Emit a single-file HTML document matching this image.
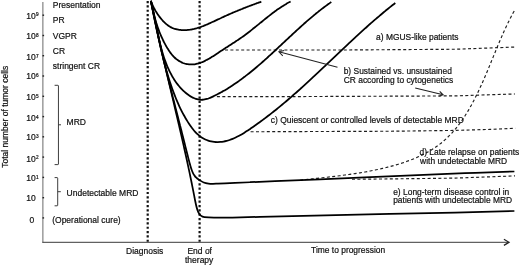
<!DOCTYPE html>
<html>
<head>
<meta charset="utf-8">
<title>Tumor cell kinetics</title>
<style>
html,body{margin:0;padding:0;background:#fff;}
body{width:520px;height:266px;overflow:hidden;}
svg{display:block;}
text{font-family:"Liberation Sans",Arial,sans-serif;font-size:8.5px;fill:#111;stroke:#111;stroke-width:0.2px;}
.ax{stroke:#444;stroke-width:1.2;fill:none;}
.dot{stroke:#111;stroke-width:2.2;stroke-dasharray:2.2 2.14;fill:none;}
.cv{stroke:#000;stroke-width:1.78;fill:none;stroke-linecap:butt;stroke-linejoin:round;}
.ds{stroke:#1e1e1e;stroke-width:1.15;stroke-dasharray:3 2.4;fill:none;}
.th{stroke:#222;stroke-width:1.05;fill:none;}
.br{stroke:#333;stroke-width:0.95;fill:none;}
.sup{font-size:4.7px;}
.an text{font-size:8.43px;}
</style>
</head>
<body>
<svg width="520" height="266" viewBox="0 0 520 266">
<rect width="520" height="266" fill="#fff"/>

<!-- axes -->
<path d="M42.85 2V242.6" stroke="#8c8c8c" stroke-width="1.3" fill="none"/>
<path d="M42.3 242.3H508" stroke="#3a3a3a" stroke-width="1" fill="none"/>
<path d="M503.9 239.3L509 242.3L503.9 245.4" stroke="#222" stroke-width="1.25" fill="none"/>

<!-- y ticks -->
<g fill="#222">
<rect x="42.5" y="14.5" width="1.6" height="1.4"/>
<rect x="42.5" y="34.8" width="1.6" height="1.4"/>
<rect x="42.5" y="55" width="1.6" height="1.4"/>
<rect x="42.5" y="75.3" width="1.6" height="1.4"/>
<rect x="42.5" y="95.6" width="1.6" height="1.4"/>
<rect x="42.5" y="115.9" width="1.6" height="1.4"/>
<rect x="42.5" y="136.1" width="1.6" height="1.4"/>
<rect x="42.5" y="156.4" width="1.6" height="1.4"/>
<rect x="42.5" y="176.7" width="1.6" height="1.4"/>
<rect x="42.5" y="197" width="1.6" height="1.4"/>
<rect x="42.5" y="217.2" width="1.6" height="1.4"/>
</g>

<!-- y tick labels -->
<g>
<text x="26.3" y="18.5">10<tspan class="sup" dx="0.2" dy="-2.3">9</tspan></text>
<text x="26.3" y="38.8">10<tspan class="sup" dx="0.2" dy="-2.3">8</tspan></text>
<text x="26.3" y="59.8">10<tspan class="sup" dx="0.2" dy="-2.3">7</tspan></text>
<text x="26.3" y="79.3">10<tspan class="sup" dx="0.2" dy="-2.3">6</tspan></text>
<text x="26.3" y="100.3">10<tspan class="sup" dx="0.2" dy="-2.3">5</tspan></text>
<text x="26.3" y="120.8">10<tspan class="sup" dx="0.2" dy="-2.3">4</tspan></text>
<text x="26.3" y="140.1">10<tspan class="sup" dx="0.2" dy="-2.3">3</tspan></text>
<text x="26.3" y="161.7">10<tspan class="sup" dx="0.2" dy="-2.3">2</tspan></text>
<text x="26.3" y="181.3">10<tspan class="sup" dx="0.2" dy="-2.3">1</tspan></text>
<text x="26.3" y="201">10</text>
<text x="29.5" y="222.5">0</text>
</g>

<!-- y axis title -->
<text transform="translate(7.8,167.8) rotate(-90)">Total number of tumor cells</text>

<!-- left categories -->
<text x="52.8" y="8.2">Presentation</text>
<text x="52.8" y="23.3">PR</text>
<text x="52.8" y="38.8">VGPR</text>
<text x="52.8" y="54.2">CR</text>
<text x="52.8" y="69">stringent CR</text>
<text x="66.6" y="125">MRD</text>
<text x="66.6" y="196.3">Undetectable MRD</text>
<text x="52.2" y="222.5">(Operational cure)</text>

<!-- brackets -->
<path class="br" d="M54.6 85.3H57.9Q58.45 85.3 58.45 85.9V164.0Q58.45 164.6 57.9 164.6H54.6M58.45 124.8H61"/>
<path class="br" d="M54.6 177.6H57.1Q57.7 177.6 57.7 178.2V205.2Q57.7 205.8 57.1 205.8H54.6M57.7 191.7H60.8"/>

<!-- vertical dotted lines -->
<path class="dot" d="M147.7 0.95V242"/>
<path class="dot" d="M199.6 0.95V242"/>

<!-- dashed plateau lines -->
<path class="ds" d="M225 50L341.9 50L455 49.25L515 47.05"/>
<path class="ds" d="M216.9 96.6L293 96.6L455 95.9L515 93.95"/>
<path class="ds" d="M250.6 131.75L390 131.25L455 130.4L490 129.4L515.3 128.25"/>
<path class="ds" d="M352 179.3L390 178.9L425 178.5L455 178.1L515 175.9"/>
<path class="ds" d="M300.00 180.21C300.41 180.16 301.62 180.02 302.43 179.93C303.24 179.84 304.05 179.75 304.86 179.66C305.67 179.57 306.49 179.48 307.30 179.39C308.12 179.30 308.94 179.21 309.76 179.12C310.58 179.03 311.40 178.94 312.22 178.85C313.04 178.76 313.87 178.67 314.69 178.58C315.52 178.49 316.35 178.40 317.17 178.31C318.00 178.22 318.83 178.13 319.66 178.04C320.49 177.95 321.32 177.86 322.16 177.77C322.99 177.67 323.82 177.58 324.66 177.49C325.49 177.39 326.33 177.30 327.16 177.21C328.00 177.11 328.84 177.02 329.67 176.92C330.51 176.82 331.35 176.73 332.19 176.63C333.03 176.53 333.87 176.43 334.71 176.33C335.55 176.23 336.40 176.12 337.24 176.02C338.08 175.92 338.92 175.81 339.77 175.71C340.61 175.60 341.45 175.49 342.30 175.38C343.14 175.27 343.98 175.16 344.83 175.05C345.67 174.94 346.52 174.82 347.36 174.71C348.21 174.59 349.05 174.47 349.90 174.35C350.74 174.23 351.59 174.11 352.43 173.99C353.28 173.86 354.12 173.74 354.97 173.61C355.81 173.48 356.66 173.35 357.50 173.21C358.35 173.08 359.19 172.95 360.04 172.81C360.88 172.67 361.72 172.53 362.57 172.38C363.41 172.24 364.25 172.10 365.10 171.95C365.94 171.80 366.78 171.65 367.62 171.49C368.46 171.34 369.31 171.18 370.15 171.02C370.99 170.86 371.83 170.70 372.66 170.53C373.50 170.36 374.34 170.19 375.18 170.02C376.02 169.85 376.85 169.67 377.69 169.49C378.52 169.31 379.36 169.13 380.19 168.94C381.02 168.75 381.86 168.56 382.69 168.37C383.52 168.17 384.35 167.98 385.18 167.77C386.01 167.57 386.83 167.37 387.66 167.16C388.49 166.95 389.31 166.74 390.14 166.52C390.96 166.30 391.78 166.08 392.60 165.85C393.42 165.63 394.24 165.40 395.06 165.16C395.88 164.93 396.69 164.69 397.51 164.45C398.32 164.20 399.14 163.96 399.95 163.70C400.76 163.45 401.57 163.19 402.37 162.93C403.18 162.67 403.98 162.40 404.79 162.13C405.59 161.86 406.39 161.58 407.18 161.30C407.98 161.02 408.77 160.73 409.56 160.43C410.35 160.14 411.14 159.84 411.93 159.53C412.71 159.22 413.49 158.91 414.27 158.59C415.04 158.27 415.82 157.95 416.59 157.62C417.36 157.29 418.12 156.95 418.88 156.60C419.64 156.26 420.40 155.90 421.15 155.54C421.90 155.18 422.65 154.82 423.39 154.44C424.13 154.07 424.87 153.69 425.60 153.30C426.33 152.91 427.06 152.51 427.78 152.10C428.50 151.70 429.22 151.28 429.93 150.86C430.64 150.44 431.34 150.01 432.04 149.57C432.74 149.13 433.43 148.69 434.11 148.23C434.80 147.77 435.48 147.31 436.15 146.84C436.82 146.37 437.49 145.89 438.15 145.40C438.81 144.91 439.47 144.41 440.11 143.91C440.76 143.40 441.40 142.89 442.04 142.36C442.67 141.84 443.30 141.31 443.92 140.78C444.54 140.24 445.16 139.69 445.76 139.14C446.37 138.58 446.97 138.02 447.56 137.45C448.16 136.88 448.74 136.30 449.32 135.71C449.90 135.13 450.47 134.53 451.04 133.93C451.61 133.33 452.17 132.72 452.72 132.10C453.27 131.49 453.82 130.86 454.36 130.23C454.90 129.60 455.43 128.96 455.96 128.32C456.48 127.68 457.00 127.03 457.52 126.37C458.03 125.71 458.54 125.05 459.04 124.38C459.55 123.71 460.04 123.04 460.54 122.36C461.03 121.68 461.51 121.00 461.99 120.31C462.47 119.61 462.95 118.92 463.42 118.22C463.89 117.52 464.35 116.81 464.81 116.10C465.27 115.39 465.72 114.68 466.17 113.96C466.62 113.24 467.06 112.52 467.50 111.79C467.94 111.07 468.37 110.34 468.80 109.60C469.23 108.87 469.66 108.13 470.08 107.39C470.50 106.65 470.91 105.91 471.33 105.16C471.74 104.41 472.15 103.66 472.55 102.91C472.95 102.16 473.35 101.41 473.75 100.65C474.14 99.89 474.53 99.13 474.92 98.37C475.31 97.61 475.69 96.85 476.07 96.09C476.46 95.32 476.83 94.56 477.21 93.79C477.58 93.02 477.95 92.26 478.32 91.49C478.68 90.72 479.05 89.95 479.41 89.17C479.77 88.40 480.13 87.63 480.48 86.86C480.84 86.08 481.19 85.31 481.54 84.53C481.89 83.75 482.24 82.98 482.59 82.20C482.93 81.42 483.27 80.64 483.62 79.86C483.96 79.09 484.30 78.31 484.63 77.52C484.97 76.74 485.31 75.96 485.64 75.18C485.97 74.40 486.30 73.62 486.64 72.83C486.97 72.05 487.29 71.27 487.62 70.49C487.95 69.70 488.28 68.92 488.60 68.13C488.93 67.35 489.25 66.57 489.58 65.78C489.90 65.00 490.22 64.21 490.55 63.43C490.87 62.64 491.19 61.86 491.51 61.08C491.83 60.29 492.15 59.51 492.47 58.72C492.79 57.94 493.12 57.16 493.44 56.37C493.76 55.59 494.08 54.81 494.40 54.02C494.72 53.24 495.04 52.46 495.36 51.68C495.68 50.90 496.01 50.12 496.33 49.33C496.65 48.55 496.97 47.77 497.30 47.00C497.62 46.22 497.95 45.44 498.27 44.66C498.60 43.88 498.93 43.11 499.26 42.33C499.58 41.56 499.91 40.78 500.25 40.01C500.58 39.23 500.91 38.46 501.24 37.69C501.58 36.92 501.92 36.15 502.25 35.38C502.59 34.61 502.93 33.84 503.27 33.08C503.62 32.31 503.96 31.54 504.31 30.78C504.66 30.02 505.00 29.26 505.36 28.49C505.71 27.73 506.06 26.98 506.42 26.22C506.78 25.46 507.14 24.71 507.50 23.95C507.86 23.20 508.23 22.45 508.60 21.70C508.97 20.95 509.34 20.20 509.71 19.45C510.09 18.71 510.47 17.96 510.85 17.22C511.23 16.48 511.62 15.74 512.01 15.00C512.40 14.26 512.80 13.53 513.19 12.79C513.59 12.06 514.20 10.97 514.40 10.60"/>

<!-- curves -->
<path class="cv" d="M150.90 0.90C150.96 1.07 151.13 1.57 151.25 1.90C151.38 2.23 151.50 2.56 151.63 2.89C151.76 3.22 151.90 3.55 152.03 3.88C152.17 4.21 152.31 4.54 152.46 4.86C152.60 5.19 152.75 5.52 152.90 5.84C153.06 6.17 153.21 6.50 153.37 6.82C153.53 7.15 153.69 7.47 153.86 7.79C154.02 8.11 154.19 8.44 154.37 8.76C154.54 9.08 154.71 9.40 154.89 9.72C155.07 10.04 155.26 10.35 155.44 10.67C155.63 10.99 155.82 11.30 156.01 11.62C156.20 11.93 156.40 12.24 156.59 12.55C156.79 12.87 156.99 13.18 157.20 13.49C157.40 13.79 157.61 14.10 157.82 14.41C158.03 14.71 158.24 15.02 158.46 15.32C158.67 15.62 158.89 15.92 159.11 16.22C159.33 16.52 159.56 16.82 159.79 17.12C160.01 17.41 160.24 17.71 160.47 18.00C160.71 18.29 160.94 18.58 161.18 18.87C161.42 19.16 161.66 19.44 161.90 19.73C162.14 20.01 162.39 20.29 162.64 20.57C162.88 20.84 163.14 21.11 163.39 21.38C163.65 21.65 163.90 21.92 164.17 22.18C164.43 22.44 164.69 22.70 164.96 22.95C165.23 23.20 165.50 23.45 165.77 23.69C166.05 23.93 166.33 24.17 166.61 24.40C166.89 24.63 167.17 24.85 167.46 25.07C167.75 25.29 168.05 25.50 168.34 25.70C168.64 25.91 168.94 26.11 169.24 26.30C169.55 26.49 169.86 26.67 170.17 26.85C170.48 27.02 170.80 27.19 171.12 27.35C171.44 27.51 171.76 27.66 172.09 27.81C172.42 27.95 172.75 28.09 173.08 28.22C173.42 28.35 173.75 28.47 174.09 28.59C174.43 28.70 174.77 28.81 175.12 28.91C175.46 29.01 175.81 29.11 176.15 29.20C176.50 29.29 176.85 29.37 177.20 29.44C177.55 29.52 177.90 29.59 178.26 29.65C178.61 29.71 178.96 29.77 179.32 29.82C179.67 29.87 180.03 29.91 180.39 29.95C180.74 29.99 181.10 30.02 181.45 30.05C181.81 30.07 182.16 30.09 182.52 30.11C182.87 30.12 183.23 30.13 183.58 30.14C183.94 30.14 184.29 30.14 184.65 30.14C185.00 30.13 185.36 30.12 185.71 30.10C186.07 30.09 186.42 30.07 186.78 30.04C187.13 30.02 187.49 29.99 187.84 29.95C188.19 29.92 188.55 29.88 188.90 29.83C189.25 29.79 189.61 29.74 189.96 29.69C190.31 29.63 190.67 29.58 191.02 29.51C191.37 29.45 191.72 29.39 192.08 29.32C192.43 29.25 192.78 29.18 193.13 29.10C193.49 29.02 193.84 28.94 194.19 28.86C194.54 28.77 194.89 28.68 195.24 28.59C195.59 28.50 195.95 28.41 196.30 28.31C196.65 28.21 197.00 28.11 197.35 28.00C197.70 27.90 198.05 27.79 198.40 27.68C198.75 27.57 199.10 27.46 199.44 27.34C199.79 27.22 200.14 27.11 200.49 26.98C200.84 26.86 201.19 26.74 201.54 26.61C201.88 26.49 202.23 26.36 202.58 26.23C202.93 26.09 203.27 25.96 203.62 25.83C203.97 25.69 204.31 25.55 204.66 25.41C205.01 25.28 205.35 25.13 205.70 24.99C206.04 24.85 206.39 24.70 206.73 24.56C207.08 24.41 207.42 24.26 207.77 24.12C208.11 23.97 208.46 23.82 208.80 23.66C209.14 23.51 209.49 23.36 209.83 23.21C210.17 23.05 210.51 22.90 210.86 22.74C211.20 22.59 211.54 22.43 211.88 22.27C212.22 22.12 212.56 21.96 212.90 21.80C213.24 21.64 213.58 21.48 213.92 21.33C214.26 21.17 214.60 21.01 214.94 20.85C215.28 20.69 215.62 20.53 215.96 20.37C216.30 20.21 216.63 20.05 216.97 19.89C217.31 19.73 217.65 19.57 217.98 19.41C218.32 19.25 218.66 19.10 218.99 18.94C219.33 18.78 219.66 18.62 220.00 18.47C220.33 18.31 220.67 18.15 221.00 18.00C221.33 17.84 221.67 17.69 222.00 17.53C222.33 17.38 222.67 17.23 223.00 17.07C223.33 16.92 223.66 16.77 224.00 16.62C224.33 16.47 224.66 16.32 224.99 16.17C225.32 16.02 225.65 15.87 225.98 15.72C226.31 15.57 226.64 15.42 226.97 15.27C227.30 15.13 227.63 14.98 227.96 14.83C228.29 14.69 228.62 14.54 228.95 14.40C229.28 14.25 229.61 14.11 229.94 13.96C230.27 13.82 230.60 13.68 230.93 13.53C231.26 13.39 231.59 13.25 231.92 13.11C232.24 12.96 232.57 12.82 232.90 12.68C233.23 12.54 233.56 12.40 233.89 12.26C234.22 12.12 234.55 11.98 234.88 11.84C235.21 11.71 235.53 11.57 235.86 11.43C236.19 11.29 236.52 11.15 236.85 11.02C237.18 10.88 237.51 10.74 237.84 10.61C238.17 10.47 238.50 10.34 238.83 10.20C239.16 10.07 239.49 9.93 239.82 9.80C240.15 9.66 240.48 9.53 240.82 9.40C241.15 9.26 241.48 9.13 241.81 9.00C242.14 8.86 242.47 8.73 242.81 8.60C243.14 8.47 243.47 8.33 243.80 8.20C244.14 8.07 244.47 7.94 244.81 7.81C245.14 7.68 245.47 7.55 245.81 7.42C246.14 7.29 246.48 7.16 246.81 7.03C247.15 6.90 247.49 6.77 247.82 6.64C248.16 6.51 248.50 6.38 248.84 6.25C249.17 6.12 249.51 6.00 249.85 5.87C250.19 5.74 250.53 5.61 250.87 5.48C251.21 5.36 251.55 5.23 251.89 5.10C252.23 4.97 252.58 4.85 252.92 4.72C253.26 4.59 253.61 4.47 253.95 4.34C254.29 4.21 254.64 4.09 254.99 3.96C255.33 3.83 255.68 3.71 256.02 3.58C256.37 3.46 256.72 3.33 257.07 3.20C257.42 3.08 257.77 2.95 258.12 2.83C258.47 2.70 258.82 2.58 259.17 2.45C259.53 2.32 259.88 2.20 260.23 2.07C260.59 1.95 261.12 1.76 261.30 1.70"/>
<path class="cv" d="M150.90 0.90C150.95 1.17 151.12 1.99 151.23 2.53C151.34 3.08 151.45 3.62 151.56 4.16C151.67 4.70 151.79 5.25 151.91 5.79C152.02 6.33 152.14 6.87 152.26 7.42C152.38 7.96 152.50 8.50 152.62 9.04C152.75 9.58 152.87 10.12 153.00 10.66C153.13 11.20 153.26 11.74 153.39 12.28C153.52 12.82 153.65 13.36 153.79 13.90C153.92 14.44 154.06 14.98 154.20 15.51C154.34 16.05 154.48 16.59 154.63 17.12C154.78 17.66 154.92 18.20 155.07 18.73C155.22 19.27 155.38 19.80 155.53 20.34C155.69 20.87 155.85 21.40 156.01 21.94C156.17 22.47 156.34 23.00 156.51 23.53C156.67 24.06 156.84 24.60 157.02 25.12C157.19 25.65 157.37 26.18 157.55 26.71C157.73 27.24 157.92 27.77 158.10 28.30C158.29 28.82 158.48 29.35 158.68 29.87C158.87 30.40 159.07 30.92 159.27 31.45C159.47 31.97 159.68 32.49 159.89 33.01C160.10 33.53 160.31 34.05 160.53 34.57C160.75 35.09 160.97 35.61 161.19 36.13C161.42 36.65 161.65 37.16 161.88 37.68C162.12 38.19 162.36 38.71 162.60 39.22C162.84 39.74 163.09 40.25 163.34 40.76C163.59 41.27 163.85 41.78 164.11 42.29C164.37 42.80 164.64 43.30 164.91 43.81C165.18 44.32 165.45 44.82 165.73 45.33C166.01 45.83 166.30 46.33 166.59 46.83C166.88 47.33 167.17 47.83 167.47 48.33C167.78 48.82 168.08 49.31 168.40 49.80C168.71 50.29 169.03 50.77 169.35 51.24C169.68 51.72 170.01 52.19 170.35 52.65C170.69 53.11 171.04 53.56 171.40 54.01C171.75 54.45 172.11 54.89 172.48 55.31C172.85 55.74 173.23 56.15 173.62 56.56C174.00 56.96 174.40 57.35 174.80 57.73C175.21 58.11 175.62 58.48 176.04 58.83C176.47 59.18 176.90 59.52 177.34 59.84C177.77 60.16 178.22 60.47 178.68 60.76C179.13 61.06 179.59 61.33 180.06 61.60C180.53 61.86 181.01 62.10 181.49 62.33C181.97 62.56 182.46 62.77 182.95 62.97C183.45 63.16 183.95 63.34 184.45 63.49C184.95 63.65 185.46 63.79 185.98 63.91C186.49 64.03 187.01 64.14 187.53 64.22C188.05 64.30 188.58 64.36 189.11 64.41C189.63 64.45 190.17 64.47 190.70 64.48C191.23 64.48 191.77 64.47 192.30 64.44C192.84 64.41 193.38 64.36 193.92 64.29C194.45 64.23 194.99 64.15 195.53 64.05C196.07 63.95 196.60 63.84 197.14 63.71C197.67 63.59 198.21 63.44 198.74 63.29C199.27 63.14 199.80 62.97 200.32 62.79C200.85 62.60 201.37 62.41 201.89 62.21C202.41 62.00 202.93 61.78 203.45 61.56C203.96 61.33 204.47 61.09 204.98 60.85C205.49 60.60 206.00 60.35 206.51 60.08C207.01 59.82 207.52 59.55 208.02 59.27C208.52 58.99 209.02 58.71 209.52 58.42C210.02 58.13 210.51 57.83 211.01 57.53C211.50 57.23 211.99 56.92 212.48 56.61C212.97 56.30 213.46 55.98 213.95 55.67C214.44 55.35 214.93 55.03 215.41 54.71C215.90 54.39 216.38 54.07 216.86 53.75C217.35 53.43 217.83 53.10 218.31 52.78C218.79 52.46 219.27 52.14 219.75 51.82C220.22 51.50 220.70 51.18 221.18 50.87C221.65 50.55 222.13 50.24 222.61 49.93C223.08 49.62 223.55 49.31 224.03 49.00C224.50 48.69 224.97 48.38 225.45 48.08C225.92 47.77 226.39 47.47 226.86 47.16C227.33 46.86 227.80 46.56 228.26 46.25C228.73 45.95 229.20 45.65 229.67 45.35C230.13 45.05 230.60 44.75 231.06 44.45C231.53 44.14 231.99 43.84 232.45 43.54C232.91 43.24 233.38 42.94 233.84 42.64C234.30 42.34 234.76 42.04 235.22 41.73C235.68 41.43 236.13 41.13 236.59 40.82C237.05 40.52 237.50 40.21 237.96 39.91C238.41 39.60 238.87 39.29 239.32 38.98C239.77 38.68 240.23 38.37 240.68 38.05C241.13 37.74 241.58 37.43 242.03 37.11C242.48 36.80 242.93 36.48 243.37 36.16C243.82 35.84 244.27 35.52 244.71 35.19C245.16 34.87 245.60 34.54 246.05 34.21C246.49 33.88 246.93 33.55 247.38 33.22C247.82 32.88 248.26 32.55 248.70 32.21C249.14 31.87 249.58 31.53 250.02 31.19C250.46 30.85 250.90 30.50 251.33 30.16C251.77 29.81 252.21 29.47 252.65 29.12C253.08 28.77 253.52 28.42 253.96 28.07C254.39 27.72 254.83 27.37 255.26 27.02C255.70 26.67 256.14 26.31 256.57 25.96C257.01 25.61 257.44 25.25 257.88 24.90C258.31 24.54 258.75 24.19 259.18 23.83C259.62 23.48 260.06 23.12 260.49 22.77C260.93 22.41 261.36 22.06 261.80 21.70C262.24 21.35 262.67 20.99 263.11 20.63C263.55 20.28 263.98 19.93 264.42 19.57C264.86 19.22 265.30 18.86 265.74 18.51C266.18 18.16 266.62 17.81 267.06 17.46C267.50 17.11 267.94 16.76 268.38 16.41C268.82 16.06 269.26 15.71 269.71 15.37C270.15 15.02 270.59 14.68 271.04 14.33C271.48 13.99 271.93 13.65 272.38 13.31C272.83 12.97 273.27 12.64 273.72 12.30C274.17 11.97 274.62 11.63 275.08 11.30C275.53 10.97 275.98 10.64 276.44 10.32C276.89 9.99 277.35 9.67 277.81 9.35C278.26 9.03 278.72 8.71 279.18 8.39C279.64 8.08 280.11 7.77 280.57 7.46C281.03 7.15 281.50 6.84 281.97 6.54C282.44 6.24 282.90 5.94 283.38 5.64C283.85 5.35 284.32 5.05 284.80 4.77C285.27 4.48 285.75 4.19 286.23 3.91C286.71 3.63 287.19 3.35 287.67 3.08C288.15 2.81 288.64 2.54 289.13 2.28C289.62 2.01 290.35 1.63 290.60 1.50"/>
<path class="cv" d="M150.90 0.90C151.00 1.29 151.29 2.44 151.48 3.21C151.68 3.98 151.86 4.75 152.04 5.53C152.23 6.30 152.41 7.07 152.58 7.84C152.76 8.62 152.93 9.39 153.10 10.17C153.27 10.94 153.44 11.71 153.60 12.49C153.77 13.26 153.93 14.04 154.09 14.82C154.25 15.59 154.41 16.37 154.56 17.14C154.72 17.92 154.88 18.69 155.03 19.47C155.19 20.24 155.34 21.02 155.49 21.79C155.65 22.57 155.80 23.34 155.95 24.12C156.10 24.89 156.26 25.67 156.41 26.44C156.56 27.22 156.71 27.99 156.87 28.76C157.02 29.54 157.18 30.31 157.33 31.08C157.49 31.85 157.65 32.63 157.81 33.40C157.97 34.17 158.13 34.94 158.29 35.71C158.45 36.48 158.62 37.24 158.79 38.01C158.96 38.78 159.13 39.55 159.30 40.31C159.47 41.08 159.65 41.84 159.83 42.61C160.01 43.37 160.20 44.13 160.39 44.89C160.57 45.65 160.77 46.41 160.96 47.17C161.16 47.93 161.36 48.69 161.57 49.44C161.78 50.20 161.99 50.95 162.21 51.71C162.42 52.46 162.64 53.21 162.87 53.96C163.10 54.71 163.34 55.45 163.58 56.20C163.82 56.95 164.06 57.69 164.32 58.43C164.57 59.17 164.83 59.91 165.10 60.65C165.37 61.39 165.64 62.13 165.93 62.86C166.21 63.60 166.50 64.33 166.80 65.06C167.10 65.79 167.41 66.51 167.72 67.24C168.04 67.96 168.36 68.69 168.70 69.41C169.03 70.13 169.37 70.85 169.73 71.56C170.08 72.28 170.44 72.99 170.81 73.70C171.18 74.41 171.57 75.11 171.96 75.81C172.35 76.51 172.76 77.20 173.17 77.89C173.59 78.58 174.01 79.26 174.45 79.94C174.89 80.61 175.34 81.28 175.80 81.94C176.26 82.60 176.74 83.26 177.23 83.90C177.71 84.54 178.21 85.18 178.73 85.80C179.24 86.42 179.77 87.04 180.31 87.64C180.85 88.24 181.41 88.84 181.98 89.41C182.55 89.99 183.13 90.56 183.73 91.11C184.33 91.67 184.95 92.21 185.58 92.73C186.21 93.26 186.85 93.77 187.51 94.26C188.17 94.75 188.84 95.23 189.53 95.67C190.21 96.12 190.91 96.54 191.61 96.93C192.31 97.31 193.02 97.68 193.74 98.00C194.46 98.32 195.18 98.61 195.91 98.85C196.64 99.09 197.37 99.29 198.10 99.45C198.84 99.60 199.57 99.71 200.31 99.76C201.04 99.81 201.78 99.81 202.51 99.76C203.24 99.72 203.97 99.61 204.70 99.47C205.43 99.34 206.16 99.15 206.88 98.94C207.61 98.73 208.33 98.48 209.05 98.21C209.77 97.95 210.49 97.65 211.20 97.34C211.92 97.02 212.63 96.69 213.34 96.35C214.05 96.01 214.76 95.66 215.46 95.31C216.16 94.96 216.86 94.60 217.56 94.24C218.25 93.87 218.95 93.51 219.64 93.13C220.33 92.76 221.01 92.38 221.70 92.00C222.38 91.61 223.06 91.23 223.74 90.83C224.42 90.44 225.09 90.04 225.76 89.64C226.44 89.24 227.11 88.83 227.77 88.42C228.44 88.01 229.10 87.60 229.76 87.18C230.42 86.76 231.08 86.33 231.74 85.91C232.39 85.48 233.05 85.05 233.70 84.61C234.35 84.17 235.00 83.73 235.64 83.29C236.29 82.85 236.93 82.40 237.57 81.95C238.21 81.50 238.85 81.04 239.49 80.58C240.12 80.12 240.76 79.66 241.39 79.20C242.02 78.73 242.65 78.26 243.28 77.79C243.91 77.32 244.53 76.84 245.16 76.36C245.78 75.89 246.40 75.40 247.02 74.92C247.64 74.44 248.26 73.95 248.88 73.46C249.49 72.97 250.11 72.47 250.72 71.98C251.33 71.48 251.94 70.98 252.55 70.48C253.16 69.98 253.77 69.48 254.38 68.97C254.98 68.47 255.59 67.96 256.19 67.45C256.80 66.94 257.40 66.42 258.00 65.91C258.60 65.40 259.20 64.88 259.80 64.36C260.40 63.84 260.99 63.32 261.59 62.80C262.18 62.27 262.78 61.75 263.37 61.22C263.97 60.70 264.56 60.17 265.15 59.64C265.74 59.11 266.33 58.58 266.92 58.05C267.51 57.52 268.10 56.98 268.69 56.45C269.27 55.91 269.86 55.38 270.45 54.84C271.03 54.30 271.62 53.77 272.21 53.23C272.79 52.69 273.38 52.15 273.96 51.61C274.54 51.07 275.13 50.52 275.71 49.98C276.29 49.44 276.87 48.90 277.46 48.35C278.04 47.81 278.62 47.27 279.20 46.72C279.78 46.18 280.36 45.63 280.95 45.09C281.53 44.54 282.11 44.00 282.69 43.45C283.27 42.91 283.85 42.36 284.43 41.82C285.01 41.27 285.59 40.73 286.17 40.18C286.75 39.64 287.33 39.10 287.92 38.55C288.50 38.01 289.08 37.46 289.66 36.92C290.24 36.38 290.82 35.83 291.41 35.29C291.99 34.75 292.57 34.21 293.15 33.67C293.74 33.13 294.32 32.59 294.90 32.05C295.49 31.51 296.07 30.97 296.66 30.43C297.24 29.90 297.83 29.36 298.41 28.83C299.00 28.29 299.59 27.76 300.18 27.23C300.76 26.70 301.35 26.17 301.94 25.64C302.53 25.11 303.12 24.58 303.71 24.05C304.31 23.53 304.90 23.00 305.49 22.48C306.09 21.96 306.68 21.44 307.28 20.92C307.87 20.40 308.47 19.88 309.07 19.37C309.67 18.86 310.27 18.34 310.87 17.83C311.47 17.32 312.07 16.81 312.67 16.31C313.28 15.80 313.88 15.30 314.49 14.80C315.10 14.30 315.70 13.80 316.31 13.31C316.92 12.81 317.53 12.32 318.15 11.83C318.76 11.34 319.38 10.85 319.99 10.37C320.61 9.88 321.23 9.40 321.85 8.92C322.47 8.45 323.09 7.97 323.71 7.50C324.34 7.03 324.96 6.56 325.59 6.09C326.22 5.63 326.85 5.17 327.48 4.71C328.11 4.25 328.75 3.80 329.38 3.35C330.02 2.90 330.98 2.23 331.30 2.01"/>
<path class="cv" d="M150.90 0.90C151.02 1.44 151.38 3.08 151.61 4.17C151.85 5.26 152.08 6.35 152.31 7.44C152.54 8.53 152.77 9.62 153.00 10.70C153.23 11.79 153.45 12.88 153.68 13.96C153.90 15.05 154.13 16.13 154.35 17.22C154.57 18.30 154.79 19.39 155.02 20.47C155.24 21.55 155.46 22.63 155.68 23.72C155.90 24.80 156.12 25.88 156.34 26.96C156.56 28.04 156.79 29.12 157.01 30.19C157.23 31.27 157.45 32.35 157.68 33.43C157.90 34.50 158.13 35.58 158.35 36.65C158.58 37.73 158.81 38.80 159.04 39.87C159.26 40.95 159.50 42.02 159.73 43.09C159.96 44.16 160.20 45.23 160.44 46.30C160.67 47.37 160.91 48.44 161.16 49.50C161.40 50.57 161.65 51.64 161.90 52.70C162.15 53.77 162.40 54.83 162.65 55.89C162.91 56.96 163.17 58.02 163.43 59.08C163.70 60.14 163.96 61.20 164.24 62.26C164.51 63.32 164.78 64.38 165.07 65.43C165.35 66.49 165.63 67.54 165.92 68.60C166.21 69.65 166.51 70.71 166.81 71.76C167.11 72.81 167.42 73.86 167.73 74.91C168.04 75.96 168.36 77.01 168.69 78.06C169.01 79.10 169.34 80.15 169.68 81.20C170.02 82.24 170.36 83.28 170.71 84.33C171.06 85.37 171.42 86.41 171.78 87.45C172.15 88.49 172.52 89.53 172.90 90.57C173.28 91.60 173.67 92.64 174.06 93.67C174.46 94.71 174.86 95.74 175.27 96.77C175.69 97.81 176.11 98.84 176.54 99.87C176.97 100.89 177.40 101.92 177.85 102.95C178.30 103.97 178.76 104.99 179.23 106.01C179.69 107.03 180.17 108.05 180.66 109.06C181.16 110.07 181.66 111.07 182.17 112.07C182.69 113.07 183.22 114.07 183.76 115.05C184.30 116.04 184.85 117.03 185.42 118.00C185.99 118.97 186.57 119.94 187.17 120.90C187.77 121.86 188.38 122.81 189.01 123.76C189.64 124.70 190.28 125.63 190.95 126.55C191.61 127.47 192.29 128.38 192.99 129.26C193.69 130.14 194.41 131.01 195.16 131.83C195.90 132.65 196.66 133.44 197.46 134.18C198.25 134.92 199.07 135.62 199.91 136.27C200.76 136.91 201.63 137.50 202.53 138.03C203.43 138.56 204.36 139.04 205.30 139.46C206.24 139.89 207.21 140.26 208.18 140.58C209.16 140.90 210.16 141.16 211.16 141.38C212.17 141.59 213.19 141.75 214.21 141.87C215.24 141.98 216.27 142.04 217.31 142.06C218.34 142.07 219.38 142.04 220.42 141.96C221.46 141.88 222.49 141.75 223.52 141.57C224.55 141.40 225.58 141.17 226.60 140.91C227.62 140.65 228.64 140.34 229.65 140.00C230.66 139.66 231.66 139.28 232.66 138.87C233.66 138.46 234.66 138.01 235.65 137.54C236.64 137.07 237.62 136.56 238.60 136.04C239.58 135.52 240.56 134.97 241.53 134.40C242.50 133.84 243.46 133.25 244.42 132.65C245.39 132.05 246.34 131.43 247.29 130.81C248.25 130.19 249.19 129.55 250.14 128.91C251.08 128.27 252.02 127.62 252.95 126.98C253.88 126.33 254.81 125.68 255.74 125.02C256.66 124.37 257.58 123.71 258.50 123.05C259.42 122.39 260.33 121.72 261.24 121.05C262.14 120.39 263.05 119.71 263.95 119.04C264.85 118.37 265.74 117.69 266.64 117.01C267.53 116.33 268.42 115.65 269.30 114.96C270.19 114.28 271.07 113.59 271.95 112.90C272.83 112.21 273.70 111.52 274.57 110.82C275.45 110.13 276.31 109.43 277.18 108.73C278.04 108.03 278.91 107.32 279.76 106.62C280.62 105.91 281.48 105.21 282.33 104.50C283.18 103.79 284.03 103.07 284.88 102.36C285.73 101.65 286.57 100.93 287.41 100.21C288.26 99.49 289.09 98.77 289.93 98.05C290.77 97.33 291.60 96.60 292.43 95.88C293.27 95.15 294.10 94.43 294.92 93.70C295.75 92.97 296.58 92.24 297.40 91.50C298.22 90.77 299.04 90.04 299.86 89.30C300.68 88.57 301.50 87.83 302.31 87.09C303.13 86.35 303.94 85.61 304.75 84.87C305.57 84.13 306.38 83.39 307.19 82.65C307.99 81.90 308.80 81.16 309.61 80.41C310.41 79.67 311.22 78.92 312.02 78.17C312.83 77.43 313.63 76.68 314.43 75.93C315.23 75.18 316.03 74.43 316.83 73.68C317.63 72.93 318.43 72.18 319.22 71.42C320.02 70.67 320.82 69.92 321.61 69.17C322.41 68.41 323.20 67.66 324.00 66.91C324.79 66.15 325.59 65.40 326.38 64.64C327.18 63.89 327.97 63.13 328.76 62.38C329.56 61.62 330.35 60.87 331.14 60.11C331.94 59.36 332.73 58.60 333.52 57.85C334.32 57.09 335.11 56.34 335.90 55.58C336.70 54.83 337.49 54.07 338.28 53.32C339.08 52.56 339.87 51.81 340.66 51.06C341.46 50.30 342.25 49.55 343.05 48.80C343.85 48.04 344.64 47.29 345.44 46.54C346.24 45.79 347.03 45.04 347.83 44.28C348.63 43.53 349.43 42.78 350.23 42.03C351.03 41.29 351.83 40.54 352.64 39.79C353.44 39.04 354.24 38.30 355.05 37.55C355.85 36.80 356.66 36.06 357.47 35.32C358.28 34.57 359.09 33.83 359.90 33.09C360.71 32.35 361.52 31.61 362.34 30.87C363.15 30.13 363.97 29.40 364.79 28.66C365.60 27.92 366.42 27.19 367.25 26.46C368.07 25.72 368.89 24.99 369.72 24.26C370.55 23.53 371.37 22.81 372.20 22.08C373.04 21.35 373.87 20.63 374.70 19.91C375.54 19.19 376.38 18.47 377.22 17.75C378.06 17.03 378.90 16.31 379.75 15.60C380.59 14.88 381.44 14.17 382.29 13.46C383.14 12.75 384.00 12.04 384.86 11.34C385.71 10.63 386.57 9.93 387.44 9.23C388.30 8.53 389.17 7.83 390.04 7.13C390.91 6.44 391.78 5.74 392.66 5.05C393.53 4.36 394.86 3.33 395.30 2.99"/>
<path class="cv" style="stroke-width:1.75" d="M150.90 0.90C150.95 1.16 151.09 1.93 151.19 2.45C151.29 2.97 151.38 3.49 151.48 4.00C151.58 4.52 151.68 5.04 151.78 5.55C151.87 6.07 151.97 6.59 152.07 7.10C152.17 7.62 152.27 8.14 152.37 8.65C152.47 9.17 152.57 9.69 152.67 10.20C152.78 10.72 152.88 11.23 152.98 11.75C153.08 12.27 153.18 12.78 153.29 13.30C153.39 13.81 153.49 14.33 153.60 14.84C153.70 15.36 153.81 15.87 153.91 16.39C154.01 16.91 154.12 17.42 154.22 17.94C154.33 18.45 154.44 18.97 154.54 19.48C154.65 19.99 154.75 20.51 154.86 21.02C154.97 21.54 155.08 22.05 155.18 22.57C155.29 23.08 155.40 23.60 155.51 24.11C155.62 24.63 155.72 25.14 155.83 25.65C155.94 26.17 156.05 26.68 156.16 27.20C156.27 27.71 156.38 28.22 156.49 28.74C156.60 29.25 156.71 29.76 156.83 30.28C156.94 30.79 157.05 31.31 157.16 31.82C157.27 32.33 157.38 32.85 157.50 33.36C157.61 33.87 157.72 34.39 157.84 34.90C157.95 35.41 158.06 35.92 158.18 36.44C158.29 36.95 158.40 37.46 158.52 37.98C158.63 38.49 158.75 39.00 158.86 39.51C158.98 40.03 159.09 40.54 159.21 41.05C159.33 41.56 159.44 42.08 159.56 42.59C159.67 43.10 159.79 43.61 159.91 44.12C160.03 44.64 160.14 45.15 160.26 45.66C160.38 46.17 160.50 46.69 160.61 47.20C160.73 47.71 160.85 48.22 160.97 48.73C161.09 49.24 161.21 49.76 161.33 50.27C161.44 50.78 161.56 51.29 161.68 51.80C161.80 52.31 161.92 52.83 162.04 53.34C162.16 53.85 162.28 54.36 162.41 54.87C162.53 55.38 162.65 55.89 162.77 56.40C162.89 56.92 163.01 57.43 163.13 57.94C163.25 58.45 163.38 58.96 163.50 59.47C163.62 59.98 163.74 60.49 163.87 61.00C163.99 61.51 164.11 62.02 164.23 62.54C164.36 63.05 164.48 63.56 164.60 64.07C164.73 64.58 164.85 65.09 164.97 65.60C165.10 66.11 165.22 66.62 165.35 67.13C165.47 67.64 165.60 68.15 165.72 68.66C165.84 69.17 165.97 69.68 166.09 70.19C166.22 70.70 166.34 71.21 166.47 71.72C166.60 72.23 166.72 72.74 166.85 73.25C166.97 73.76 167.10 74.27 167.22 74.78C167.35 75.29 167.48 75.80 167.60 76.31C167.73 76.82 167.86 77.33 167.98 77.84C168.11 78.35 168.24 78.86 168.36 79.37C168.49 79.88 168.62 80.39 168.74 80.90C168.87 81.41 169.00 81.92 169.13 82.43C169.25 82.94 169.38 83.45 169.51 83.96C169.64 84.47 169.77 84.98 169.89 85.49C170.02 86.00 170.15 86.51 170.28 87.02C170.41 87.53 170.53 88.04 170.66 88.55C170.79 89.06 170.92 89.57 171.05 90.08C171.18 90.59 171.31 91.09 171.44 91.60C171.56 92.11 171.69 92.62 171.82 93.13C171.95 93.64 172.08 94.15 172.21 94.66C172.34 95.17 172.47 95.68 172.60 96.19C172.73 96.70 172.86 97.21 172.99 97.72C173.12 98.23 173.25 98.74 173.38 99.25C173.51 99.75 173.64 100.26 173.77 100.77C173.90 101.28 174.03 101.79 174.16 102.30C174.29 102.81 174.42 103.32 174.55 103.83C174.68 104.34 174.81 104.85 174.94 105.36C175.07 105.87 175.20 106.38 175.33 106.88C175.46 107.39 175.59 107.90 175.72 108.41C175.85 108.92 175.98 109.43 176.11 109.94C176.24 110.45 176.37 110.96 176.50 111.47C176.63 111.98 176.76 112.49 176.89 113.00C177.02 113.51 177.15 114.02 177.28 114.52C177.41 115.03 177.54 115.54 177.67 116.05C177.80 116.56 177.93 117.07 178.06 117.58C178.19 118.09 178.32 118.60 178.46 119.11C178.59 119.62 178.72 120.13 178.85 120.64C178.98 121.15 179.11 121.66 179.24 122.17C179.37 122.68 179.50 123.18 179.63 123.69C179.76 124.20 179.89 124.71 180.02 125.22C180.15 125.73 180.28 126.24 180.41 126.75C180.54 127.26 180.67 127.77 180.80 128.28C180.93 128.79 181.06 129.30 181.19 129.81C181.32 130.32 181.45 130.83 181.58 131.34C181.71 131.85 181.84 132.36 181.97 132.87C182.10 133.38 182.23 133.89 182.36 134.40C182.49 134.91 182.61 135.42 182.74 135.93C182.87 136.44 183.00 136.95 183.13 137.46C183.26 137.97 183.39 138.48 183.52 138.99C183.65 139.50 183.78 140.01 183.91 140.52C184.03 141.03 184.16 141.54 184.29 142.05C184.42 142.56 184.55 143.07 184.68 143.58C184.80 144.09 184.93 144.60 185.06 145.11C185.19 145.62 185.32 146.13 185.44 146.64C185.57 147.15 185.70 147.66 185.83 148.17C185.96 148.68 186.08 149.20 186.21 149.71C186.34 150.22 186.47 150.73 186.59 151.24C186.72 151.75 186.85 152.26 186.98 152.77C187.10 153.28 187.23 153.79 187.36 154.30C187.49 154.81 187.62 155.32 187.75 155.83C187.88 156.34 188.01 156.85 188.14 157.36C188.27 157.87 188.40 158.38 188.54 158.89C188.67 159.40 188.80 159.91 188.94 160.42C189.07 160.93 189.21 161.44 189.34 161.95C189.48 162.46 189.62 162.97 189.75 163.48C189.89 163.99 190.03 164.50 190.18 165.00C190.32 165.51 190.46 166.02 190.61 166.53C190.75 167.03 190.90 167.54 191.06 168.04C191.22 168.54 191.38 169.04 191.55 169.53C191.72 170.02 191.90 170.51 192.09 170.99C192.28 171.48 192.47 171.95 192.69 172.42C192.90 172.88 193.13 173.34 193.37 173.79C193.62 174.24 193.87 174.68 194.15 175.10C194.43 175.53 194.72 175.94 195.04 176.34C195.35 176.74 195.64 177.10 196.05 177.49C196.46 177.88 196.84 178.22 197.50 178.70C198.16 179.18 198.96 179.77 200.00 180.40C201.04 181.03 202.33 181.97 203.75 182.50C205.17 183.03 206.96 183.38 208.50 183.60C210.04 183.82 211.42 183.80 213.00 183.80C214.58 183.80 216.00 183.68 218.00 183.60C220.00 183.52 222.17 183.42 225.00 183.30C227.83 183.18 230.83 183.08 235.00 182.90C239.17 182.72 243.33 182.53 250.00 182.25C256.67 181.97 263.33 181.69 275.00 181.20C286.67 180.71 299.17 180.18 320.00 179.30C340.83 178.42 375.83 176.92 400.00 175.90C424.17 174.88 445.93 173.93 465.00 173.20C484.07 172.47 506.17 171.78 514.40 171.50"/>
<path class="cv" style="stroke-width:1.75" d="M150.90 0.90C150.98 1.32 151.23 2.59 151.40 3.43C151.57 4.28 151.74 5.12 151.91 5.96C152.08 6.81 152.25 7.65 152.42 8.49C152.59 9.34 152.76 10.18 152.94 11.02C153.11 11.87 153.28 12.71 153.46 13.55C153.63 14.39 153.81 15.24 153.98 16.08C154.16 16.92 154.34 17.76 154.51 18.60C154.69 19.45 154.87 20.29 155.05 21.13C155.22 21.97 155.40 22.81 155.58 23.65C155.76 24.50 155.94 25.34 156.12 26.18C156.31 27.02 156.49 27.86 156.67 28.70C156.85 29.54 157.03 30.38 157.22 31.22C157.40 32.06 157.58 32.90 157.77 33.74C157.95 34.59 158.14 35.43 158.32 36.27C158.51 37.11 158.70 37.95 158.88 38.79C159.07 39.63 159.26 40.47 159.44 41.31C159.63 42.15 159.82 42.98 160.01 43.82C160.20 44.66 160.38 45.50 160.57 46.34C160.76 47.18 160.95 48.02 161.14 48.86C161.33 49.70 161.52 50.54 161.71 51.38C161.90 52.22 162.10 53.06 162.29 53.89C162.48 54.73 162.67 55.57 162.86 56.41C163.06 57.25 163.25 58.09 163.44 58.93C163.64 59.77 163.83 60.60 164.02 61.44C164.22 62.28 164.41 63.12 164.60 63.96C164.80 64.80 164.99 65.63 165.19 66.47C165.38 67.31 165.58 68.15 165.77 68.99C165.97 69.82 166.16 70.66 166.36 71.50C166.55 72.34 166.75 73.18 166.95 74.01C167.14 74.85 167.34 75.69 167.54 76.53C167.73 77.37 167.93 78.20 168.13 79.04C168.32 79.88 168.52 80.72 168.72 81.55C168.91 82.39 169.11 83.23 169.31 84.07C169.50 84.91 169.70 85.74 169.90 86.58C170.10 87.42 170.29 88.26 170.49 89.09C170.69 89.93 170.89 90.77 171.08 91.61C171.28 92.44 171.48 93.28 171.68 94.12C171.87 94.96 172.07 95.79 172.27 96.63C172.47 97.47 172.67 98.31 172.86 99.14C173.06 99.98 173.26 100.82 173.46 101.66C173.65 102.50 173.85 103.33 174.05 104.17C174.25 105.01 174.44 105.85 174.64 106.68C174.84 107.52 175.03 108.36 175.23 109.20C175.43 110.03 175.63 110.87 175.82 111.71C176.02 112.55 176.22 113.39 176.41 114.22C176.61 115.06 176.80 115.90 177.00 116.74C177.20 117.58 177.39 118.41 177.59 119.25C177.78 120.09 177.98 120.93 178.17 121.77C178.37 122.60 178.56 123.44 178.76 124.28C178.95 125.12 179.15 125.96 179.34 126.79C179.54 127.63 179.73 128.47 179.92 129.31C180.12 130.15 180.31 130.99 180.50 131.83C180.70 132.66 180.89 133.50 181.08 134.34C181.27 135.18 181.47 136.02 181.66 136.86C181.85 137.70 182.04 138.54 182.23 139.38C182.42 140.21 182.61 141.05 182.80 141.89C182.99 142.73 183.18 143.57 183.37 144.41C183.56 145.25 183.75 146.09 183.94 146.93C184.13 147.77 184.31 148.61 184.50 149.45C184.69 150.29 184.88 151.13 185.06 151.97C185.25 152.81 185.44 153.65 185.62 154.49C185.81 155.33 185.99 156.17 186.18 157.01C186.36 157.85 186.54 158.69 186.73 159.53C186.91 160.37 187.09 161.21 187.27 162.05C187.46 162.90 187.64 163.74 187.82 164.58C188.00 165.42 188.18 166.26 188.36 167.10C188.54 167.94 188.72 168.78 188.90 169.63C189.08 170.47 189.25 171.31 189.43 172.15C189.61 172.99 189.78 173.84 189.96 174.68C190.14 175.52 190.31 176.36 190.48 177.21C190.66 178.05 190.83 178.89 191.01 179.74C191.18 180.58 191.35 181.42 191.52 182.26C191.69 183.11 191.86 183.95 192.03 184.80C192.20 185.64 192.37 186.48 192.54 187.33C192.71 188.17 192.88 189.01 193.04 189.86C193.21 190.70 193.37 191.55 193.54 192.39C193.70 193.24 193.87 194.08 194.03 194.93C194.19 195.77 194.36 196.62 194.52 197.46C194.68 198.31 194.92 199.58 195.00 200.00C196.8 209 198.2 216.6 204.5 217.2C208 217.5 211 217.5 214 217.5L232.5 217.5L260 216.9L325 215.4L390 213.9L455 212.6L514.4 211"/>

<!-- annotation arrows -->
<path class="th" d="M337.5 67.25L278.9 51.8M284.1 50.4L278.9 51.8L282.8 55.8"/>
<path class="th" d="M415.2 87.9L443.1 94.8M438.7 96.3L443.1 94.8L439.7 91.3"/>

<!-- annotations -->
<g class="an">
<text x="376.1" y="40">a) MGUS-like patients</text>
<text x="343.7" y="73.5">b) Sustained vs. unsustained</text>
<text x="343.7" y="83">CR according to cytogenetics</text>
<text x="270.8" y="122.5" style="font-size:8.48px">c) Quiescent or controlled levels of detectable MRD</text>
<text x="419.5" y="154.9">d) Late relapse on patients</text>
<text x="420.1" y="163.9">with undetectable MRD</text>
<text x="393.2" y="194.8">e) Long-term disease control in</text>
<text x="393.2" y="203.3">patients with undetectable MRD</text>
</g>

<!-- x labels -->
<text x="126" y="253.5">Diagnosis</text>
<text x="187.4" y="253.5">End of</text>
<text x="185" y="262.5">therapy</text>
<text x="311.1" y="253.3" style="font-size:8.43px">Time to progression</text>
</svg>
</body>
</html>
